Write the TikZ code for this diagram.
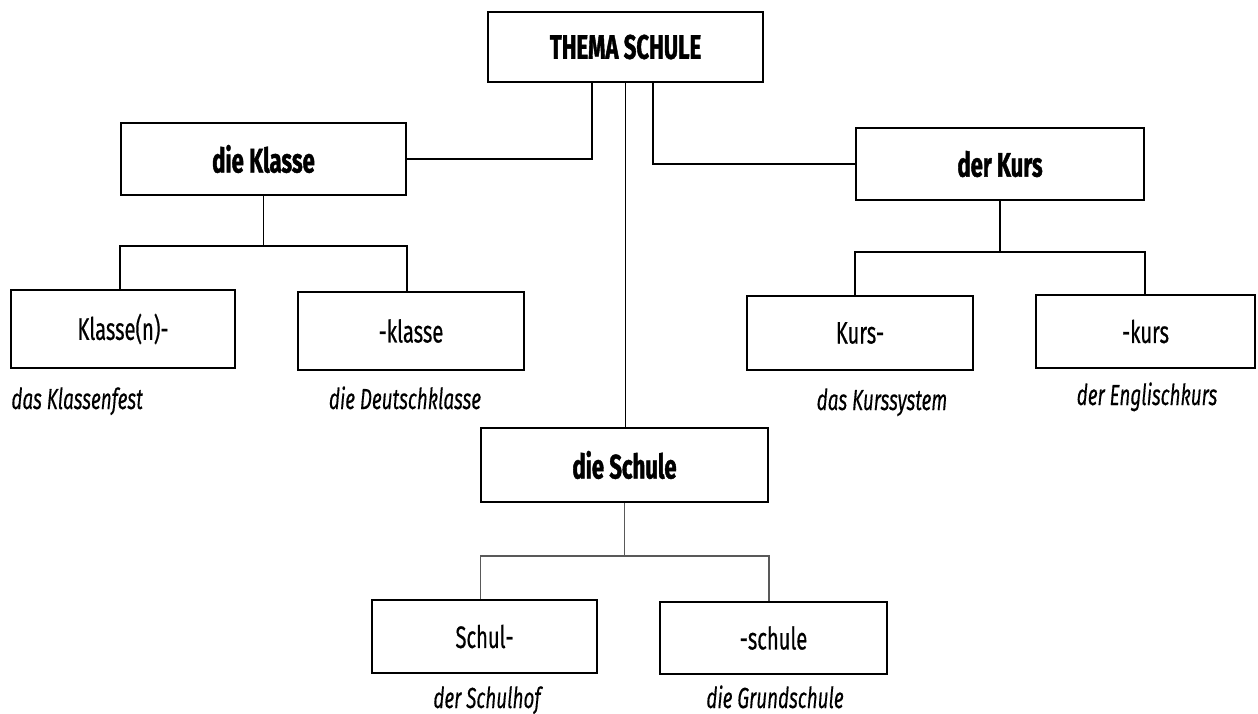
\documentclass[tikz,border=0pt]{standalone}
\usepackage{fontspec}
\setmainfont{Fira Sans}[FakeStretch=0.65]
\begin{document}
\begin{tikzpicture}[x=0.5pt,y=-0.5pt,
  box/.style={draw=black,line width=0.9pt,rectangle,inner sep=0pt,anchor=center,fill=white},
  mainbox/.style={box,font=\bfseries\addfontfeature{FakeBold=1.2}\fontsize{17}{19}\selectfont},
  subbox/.style={box,font=\addfontfeature{FakeBold=0.5}\fontsize{15.5}{17}\selectfont},
  lab/.style={font=\itshape\addfontfeature{FakeBold=0.3}\fontsize{14.5}{16}\selectfont,anchor=base,inner sep=0pt},
  link/.style={draw=black,line width=0.8pt},
  light/.style={draw=black!65,line width=0.6pt}]
\useasboundingbox (0,0) rectangle (1258,713);
% main boxes
\node[mainbox,minimum width=137.5pt,minimum height=35pt] (top) at (625.5,47) {THEMA SCHULE};
\node[mainbox,minimum width=142.5pt,minimum height=36pt] (klasse) at (263.5,159) {die Klasse};
\node[mainbox,minimum width=144pt,minimum height=36pt] (kurs) at (1000,164) {der Kurs};
\node[mainbox,minimum width=143.5pt,minimum height=37pt] (schule) at (624.5,465) {die Schule};
% sub boxes
\node[subbox,minimum width=112pt,minimum height=39pt] (kn) at (123,329) {Klasse(n)-};
\node[subbox,minimum width=113pt,minimum height=39pt] (kl) at (411,331) {-klasse};
\node[subbox,minimum width=113pt,minimum height=37pt] (ku1) at (860,333) {Kurs-};
\node[subbox,minimum width=109.5pt,minimum height=36.5pt] (ku2) at (1145.5,331.5) {-kurs};
\node[subbox,minimum width=112.5pt,minimum height=36.5pt] (s1) at (484.5,636.5) {Schul-};
\node[subbox,minimum width=113.5pt,minimum height=36pt] (s2) at (773.5,638) {-schule};
% labels
\node[lab,anchor=base west] (l1) at (11,409) {das Klassenfest};
\node[lab] (l2) at (405,409) {die Deutschklasse};
\node[lab] (l3) at (882,410) {das Kurssystem};
\node[lab] (l4) at (1147,405) {der Englischkurs};
\node[lab] (l5) at (487,708) {der Schulhof};
\node[lab] (l6) at (775,708) {die Grundschule};
% branch coordinates
\coordinate (kb) at (263,246);
\coordinate (ub) at (999,252);
\coordinate (sb) at (623,556);
% connectors from top
\draw[link] ([xshift=-16.75pt]top.south) |- (klasse.east);
\draw[link] ([xshift=13.75pt]top.south) |- (kurs.west);
\draw[link] (top.south) -- (top.south |- schule.north);
% Klasse subtree
\draw[link] (klasse.south) -- (klasse.south |- kb);
\draw[link] (klasse.west |- kn.north) -- (klasse.west |- kb) -- (klasse.east |- kb) -- (klasse.east |- kl.north);
% Kurs subtree
\draw[link] (kurs.south) -- (kurs.south |- ub);
\draw[link] (kurs.west |- ku1.north) -- (kurs.west |- ub) -- (kurs.east |- ub) -- (kurs.east |- ku2.north);
% Schule subtree
\draw[light] (schule.south) -- (schule.south |- sb);
\draw[light] (schule.west |- s1.north) -- (schule.west |- sb) -- (schule.east |- sb) -- (schule.east |- s2.north);
\end{tikzpicture}
\end{document}
